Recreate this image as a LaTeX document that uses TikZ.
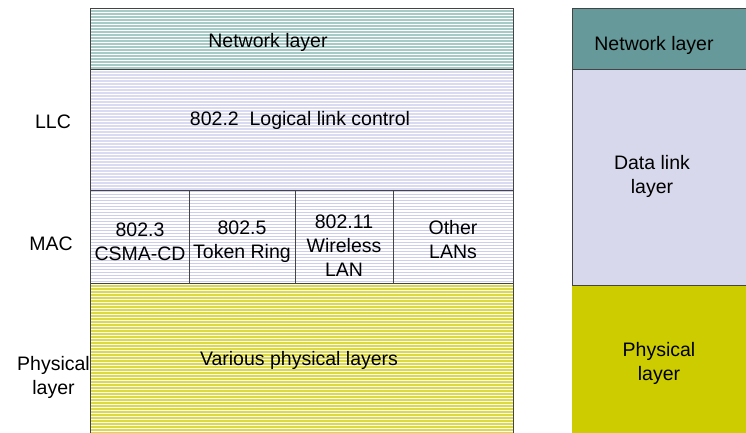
\documentclass[tikz,border=0pt]{standalone}
\usepackage{fontspec}
\setmainfont{Liberation Sans}
\definecolor{netfill}{HTML}{A6CAC6}
\definecolor{llcfill}{HTML}{DADAF0}
\definecolor{macline}{HTML}{CDCDEE}
\definecolor{phyfill}{HTML}{DCDA40}
\definecolor{netsolid}{HTML}{669999}
\definecolor{dlsolid}{HTML}{D8D8EC}
\definecolor{physolid}{HTML}{CCCC00}
\definecolor{edge}{HTML}{444444}
\tikzset{
  layerbox/.style={draw=edge, line width=0.9pt, anchor=north west, inner sep=0pt, outer sep=0pt},
  hairline/.style={line width=#1},
  lbl/.style={font=\fontsize{19.5}{24}\selectfont, align=center, inner sep=0pt}
}
\begin{document}
\begin{tikzpicture}[x=1pt,y=-1pt]
\useasboundingbox[fill=white] (0,0) rectangle (746,432);

% IEEE 802 stack: shaded layers with horizontal hatching
\node[layerbox, draw=none, fill=netfill, minimum width=423pt, minimum height=61pt] (net) at (90,8) {};
\foreach \y in {9.5,12.5,...,68} \draw[white, hairline=0.8pt] (90,\y) -- (513,\y);
\node[layerbox, draw=none, fill=llcfill, minimum width=423pt, minimum height=121pt] (llc) at (90,69) {};
\foreach \y in {70.5,73.5,...,189} \draw[white, hairline=1.2pt] (90,\y) -- (513,\y);
\foreach \y in {191.5,194.5,...,282} \draw[macline, hairline=0.7pt] (90,\y) -- (513,\y);
\node[layerbox, draw=none, fill=phyfill, minimum width=423pt, minimum height=152pt] (phy) at (90,283) {};
\foreach \y in {284.5,287.5,...,432} \draw[white, hairline=1pt] (90,\y) -- (513,\y);

% outlines
\draw[draw=edge, line width=0.9pt] (net.north west) rectangle (net.south east);
\draw[draw=edge, line width=0.9pt] (llc.north west) rectangle (llc.south east);
\node[layerbox, minimum width=99.5pt, minimum height=93pt] (m1) at (90,190) {};
\node[layerbox, minimum width=105.5pt, minimum height=93pt] (m2) at (189.5,190) {};
\node[layerbox, minimum width=98pt, minimum height=93pt] (m3) at (295,190) {};
\node[layerbox, minimum width=120pt, minimum height=93pt] (m4) at (393,190) {};
\draw[draw=edge, line width=0.9pt] (phy.south west) -- (phy.north west) -- (phy.north east) -- (phy.south east);

\node[lbl] (tnet) at (268,42) {Network layer};
\node[lbl] (tllc) at (300,120) {802.2\ \ Logical link control};
\node[lbl] (t1) at (140,242) {802.3\\CSMA-CD};
\node[lbl] (t2) at (242,242) {802.5\\Token Ring};
\node[lbl] (t3) at (344,246) {802.11\\Wireless\\LAN};
\node[lbl] (t4) at (453,240) {Other\\LANs};
\node[lbl] (tphy) at (299,360) {Various physical layers};

% side labels
\node[lbl] (sllc) at (53,122) {LLC};
\node[lbl] (smac) at (51,244) {MAC};
\node[lbl] (sphy) at (53.5,377) {Physical\\layer};

% OSI stack
\node[layerbox, fill=netsolid, minimum width=180pt, minimum height=61pt] (onet) at (572,8) {};
\node[layerbox, fill=dlsolid, minimum width=180pt, minimum height=216pt] (odl) at (572,69) {};
\node[anchor=north west, fill=physolid, inner sep=0pt, minimum width=180pt, minimum height=150pt] (ophy) at (572,285) {};
\draw[draw=edge, line width=0.9pt] (ophy.north west) -- (ophy.north east);

\node[lbl] (tonet) at (654,45) {Network layer};
\node[lbl] (todl) at (652,176) {Data link\\layer};
\node[lbl] (tophy) at (659,363) {Physical\\layer};
\end{tikzpicture}
\end{document}
